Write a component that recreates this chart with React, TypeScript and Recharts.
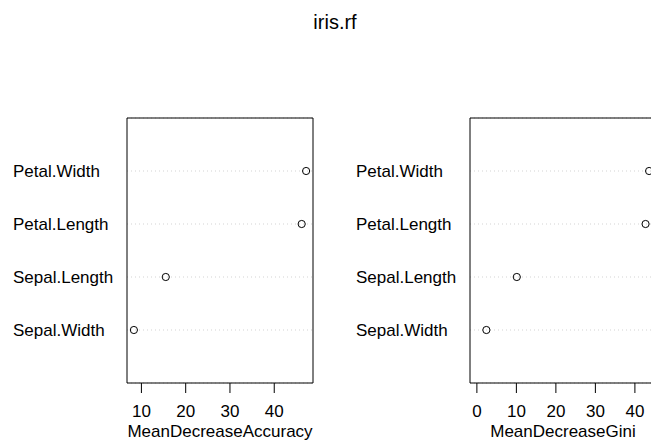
import React from 'react';
import { ScatterChart, Scatter, XAxis, YAxis, CartesianGrid, ReferenceArea } from 'recharts';

const title = 'iris.rf';
const categories = ['Sepal.Width', 'Sepal.Length', 'Petal.Length', 'Petal.Width'];
const accuracyValues = [8.3, 15.5, 46.2, 47.2];
const giniValues = [2.4, 10.1, 42.7, 43.6];
const accuracyTicks = [10, 20, 30, 40];
const giniTicks = [0, 10, 20, 30, 40];
const categoryPositions = [1, 2, 3, 4];

const FONT = '"Liberation Sans", Arial, Helvetica, sans-serif';

function extend(lo: number, hi: number): [number, number] {
  const r = hi - lo;
  return [lo - 0.04 * r, hi + 0.04 * r];
}

const OpenCircle = (props: any) => {
  const { cx, cy } = props;
  if (cx == null || cy == null) return null;
  return <circle cx={cx} cy={cy} r={3.6} fill="none" stroke="#000" strokeWidth={1} />;
};

const makeLabelTick = (labelX: number) => (props: any) => {
  const { y, payload } = props;
  const idx = categoryPositions.indexOf(payload.value);
  return (
    <text x={labelX} y={y} dy={6} textAnchor="start" fontSize={17} fontFamily={FONT} fill="#000">
      {categories[idx]}
    </text>
  );
};

type PanelProps = {
  values: number[];
  ticks: number[];
  domain: [number, number];
  xlab: string;
  left: number;
  width: number;
  marginLeft: number;
  marginRight: number;
  labelX: number;
};

const Panel = ({ values, ticks, domain, xlab, left, width, marginLeft, marginRight, labelX }: PanelProps) => {
  const data = categories.map((c, i) => ({ name: c, pos: categoryPositions[i], value: values[i] }));
  return (
    <div style={{ position: 'absolute', left, top: 0 }}>
      <ScatterChart
        width={width}
        height={444}
        margin={{ top: 118, right: marginRight, bottom: 0, left: marginLeft }}
      >
        <CartesianGrid
          horizontal={true}
          vertical={false}
          stroke="#d3d3d3"
          strokeDasharray="1 3"
        />
        <XAxis
          type="number"
          dataKey="value"
          domain={domain}
          ticks={ticks}
          allowDataOverflow
          axisLine={false}
          tickLine={{ stroke: '#000' }}
          tickSize={10}
          tickMargin={12}
          height={61}
          interval={0}
          tick={{ fontSize: 17, fontFamily: FONT, fill: '#000' }}
          label={{
            value: xlab,
            position: 'insideBottom',
            offset: 7,
            fontSize: 17,
            fontFamily: FONT,
            fill: '#000',
          }}
        />
        <YAxis
          type="number"
          dataKey="pos"
          domain={[0, 5]}
          ticks={categoryPositions}
          interval={0}
          axisLine={false}
          tickLine={false}
          width={120}
          tick={makeLabelTick(labelX)}
        />
        <ReferenceArea
          x1={domain[0]}
          x2={domain[1]}
          y1={0}
          y2={5}
          fill="none"
          stroke="#000"
          strokeWidth={1}
          ifOverflow="extendDomain"
        />
        <Scatter data={data} isAnimationActive={false} shape={OpenCircle} />
      </ScatterChart>
    </div>
  );
};

export default function App() {
  const accDomain = extend(Math.min(...accuracyValues), Math.max(...accuracyValues));
  const giniDomain = extend(0, Math.max(...giniValues));
  return (
    <div
      style={{
        position: 'absolute',
        left: 0,
        top: 0,
        width: 651,
        height: 444,
        overflow: 'hidden',
        background: '#fff',
      }}
    >
      <div
        style={{
          position: 'absolute',
          left: 235,
          width: 200,
          top: 10,
          textAlign: 'center',
          fontFamily: FONT,
          fontSize: 20,
          lineHeight: '24px',
          color: '#000',
        }}
      >
        {title}
      </div>
      <Panel
        values={accuracyValues}
        ticks={accuracyTicks}
        domain={accDomain}
        xlab="MeanDecreaseAccuracy"
        left={0}
        width={330}
        marginLeft={7}
        marginRight={17}
        labelX={13}
      />
      <Panel
        values={giniValues}
        ticks={giniTicks}
        domain={giniDomain}
        xlab="MeanDecreaseGini"
        left={330}
        width={340}
        marginLeft={20}
        marginRight={14}
        labelX={26}
      />
    </div>
  );
}
